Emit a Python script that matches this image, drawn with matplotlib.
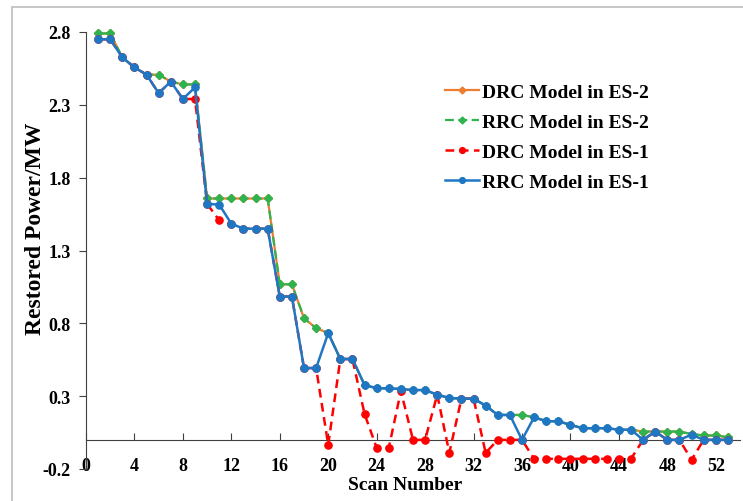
import numpy as np
import matplotlib
matplotlib.use('Agg')
import matplotlib.pyplot as plt
from matplotlib.patches import Rectangle

plt.rcParams['font.family'] = ['Liberation Serif', 'DejaVu Serif']
plt.rcParams['font.weight'] = 'bold'

# scan numbers
scan = list(range(1, 54))

# RRC model in ES-1 (blue)
rrc_es1 = [2.75, 2.75, 2.625, 2.557, 2.507, 2.38, 2.46, 2.34, 2.42, 1.62,
           1.615, 1.484, 1.45, 1.45, 1.45, 0.984, 0.984, 0.493, 0.493, 0.733,
           0.555, 0.555, 0.377, 0.354, 0.354, 0.349, 0.342, 0.342, 0.31, 0.288,
           0.283, 0.283, 0.235, 0.171, 0.171, 0.0, 0.155, 0.128, 0.128, 0.103,
           0.08, 0.08, 0.08, 0.07, 0.07, 0.0, 0.057, 0.0, 0.0, 0.036,
           0.0, 0.0, 0.0]

# RRC model in ES-2 (green) and DRC model in ES-2 (orange), identical
rrc_es2 = [2.79, 2.79, 2.625, 2.557, 2.507, 2.507, 2.46, 2.44, 2.44, 1.657,
           1.657, 1.657, 1.657, 1.657, 1.657, 1.068, 1.068, 0.835, 0.767, 0.733,
           0.555, 0.555, 0.377, 0.354, 0.354, 0.349, 0.342, 0.342, 0.31, 0.288,
           0.283, 0.283, 0.235, 0.171, 0.171, 0.171, 0.155, 0.128, 0.128, 0.103,
           0.08, 0.08, 0.08, 0.07, 0.07, 0.057, 0.057, 0.057, 0.057, 0.04,
           0.03, 0.03, 0.018]
drc_es2 = list(rrc_es2)

# DRC model in ES-1 (red)
drc_es1 = [2.75, 2.75, 2.625, 2.557, 2.507, 2.38, 2.46, 2.34, 2.34, 1.62,
           1.507, 1.484, 1.45, 1.45, 1.45, 0.984, 0.984, 0.493, 0.493, -0.034,
           0.555, 0.555, 0.178, -0.055, -0.055, 0.335, 0.0, 0.0, 0.31, -0.089,
           0.283, 0.283, -0.089, 0.0, 0.0, 0.0, -0.13, -0.13, -0.13, -0.13,
           -0.13, -0.13, -0.13, -0.13, -0.13, 0.0, 0.057, 0.0, 0.0, -0.137,
           0.0, 0.0, 0.0]

xticks = list(range(0, 53, 4))
yticks = [-0.2, 0.3, 0.8, 1.3, 1.8, 2.3, 2.8]

W, H = 743, 502
fig = plt.figure(figsize=(W / 100, H / 100), dpi=100)
ax = fig.add_axes([86 / W, 1 - 470 / H, 654 / W, 437 / H])

ax.plot(scan, drc_es2, color='#ED7D31', lw=1.6, marker='D', ms=4.4,
        label='DRC Model in ES-2', zorder=2, clip_on=False)
ax.plot(scan, rrc_es2, color='#2FB34E', lw=1.6, ls=(0, (4, 2)), marker='D', ms=4.4,
        label='RRC Model in ES-2', zorder=3, clip_on=False)
ax.plot(scan, drc_es1, color='#FF0000', lw=1.8, ls=(0, (3.5, 2.2)), marker='o', ms=5.2,
        label='DRC Model in ES-1', zorder=4, clip_on=False)
ax.plot(scan, rrc_es1, color='#1F77C4', lw=1.8, marker='o', ms=5.2,
        label='RRC Model in ES-1', zorder=5, clip_on=False)

ax.set_xlim(0, 54)
ax.set_ylim(-0.2, 2.8)

ax.spines['top'].set_visible(False)
ax.spines['right'].set_visible(False)
ax.spines['bottom'].set_position(('data', 0))
ax.spines['bottom'].set_color('#404040')
ax.spines['left'].set_color('#404040')

ax.set_xticks(xticks)
ax.set_yticks(yticks)
ax.set_yticklabels([f'{v:.1f}' for v in yticks])
ax.tick_params(axis='x', direction='in', length=5, pad=12, labelsize=13, color='#404040')
ax.tick_params(axis='y', direction='out', length=5, pad=6, labelsize=13, color='#404040')

ax.set_ylabel('Restored Power/MW', fontsize=17, fontweight='bold')
ax.yaxis.set_label_coords(-0.061, 0.551)
fig.text(405 / W, 1 - 486 / H, 'Scan Number', fontsize=14, fontweight='bold',
         ha='center', va='center')

leg = ax.legend(loc='upper left', bbox_to_anchor=(445 / W, 1 - 84 / H),
                bbox_transform=fig.transFigure, frameon=False, fontsize=14,
                handlelength=1.75, handletextpad=0.15, labelspacing=0.64,
                borderpad=0, borderaxespad=0, markerscale=0.8)

# outer chart-area border
fig.add_artist(Rectangle((12 / W, -0.01), 1.0, 1 - 7.5 / H + 0.01,
                         transform=fig.transFigure, fill=False,
                         edgecolor='#BEBEBE', lw=1.2))

fig.savefig('out.png', dpi=100, facecolor='white')
